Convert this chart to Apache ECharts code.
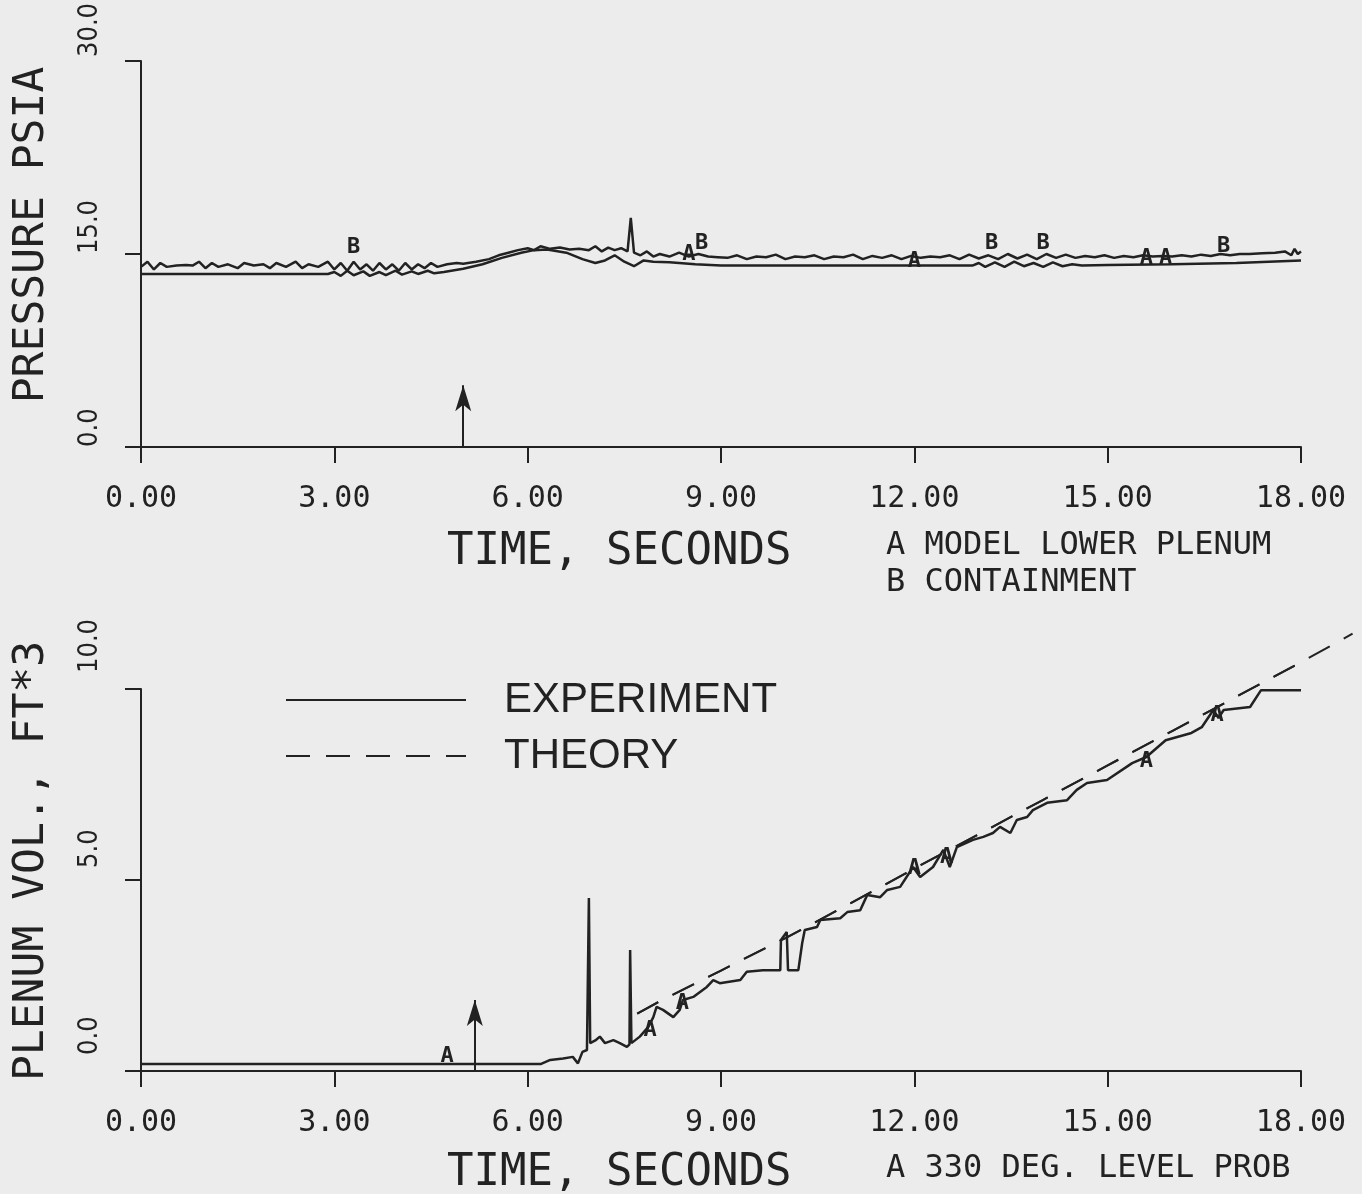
<!DOCTYPE html>
<html><head><meta charset="utf-8">
<script src="https://cdn.jsdelivr.net/npm/echarts@6/dist/echarts.min.js"></script>
<style>html,body{margin:0;padding:0;background:#ececec}#c{width:1362px;height:1194px}</style>
</head><body><div id="c"></div>
<script>
// ---------- DATA ----------
const xTickValues = [0, 3, 6, 9, 12, 15, 18];
const pressureTicks = [0, 15, 30];
const volumeTicks = [0, 5, 10];

// Top panel: B = containment (noisy trace), A = model lower plenum
const pressureB = [
 [0,14.0],[0.1,14.4],[0.2,13.8],[0.3,14.3],[0.4,14.0],[0.55,14.1],[0.7,14.15],[0.8,14.1],[0.9,14.4],[1.0,13.9],
 [1.1,14.3],[1.2,14.0],[1.35,14.2],[1.5,13.9],[1.6,14.3],[1.75,14.1],[1.9,14.2],[2.0,13.9],[2.1,14.3],[2.25,14.0],
 [2.4,14.4],[2.5,13.9],[2.6,14.2],[2.75,14.0],[2.9,14.4],[3.0,13.8],[3.1,14.3],[3.2,13.7],[3.3,14.4],[3.4,13.8],
 [3.5,14.2],[3.6,13.7],[3.7,14.3],[3.8,13.8],[3.9,14.2],[4.0,13.7],[4.1,14.3],[4.2,13.8],[4.3,14.2],[4.4,13.9],
 [4.5,14.3],[4.6,14.0],[4.75,14.2],[4.9,14.3],[5.0,14.25],[5.2,14.4],[5.4,14.6],[5.55,14.9],[5.7,15.1],[5.85,15.3],
 [6.0,15.45],[6.1,15.3],[6.2,15.6],[6.35,15.4],[6.5,15.5],[6.65,15.35],[6.8,15.4],[6.95,15.3],[7.05,15.6],[7.15,15.2],
 [7.25,15.5],[7.35,15.3],[7.45,15.45],[7.55,15.2],[7.6,17.8],[7.65,15.1],[7.75,14.9],[7.85,15.2],[7.95,14.8],[8.05,15.0],
 [8.2,14.8],[8.35,15.1],[8.5,14.8],[8.65,15.0],[8.8,14.8],[8.95,14.75],[9.1,14.7],[9.25,14.9],[9.4,14.6],[9.55,14.8],
 [9.7,14.75],[9.85,14.95],[10.0,14.6],[10.15,14.8],[10.3,14.75],[10.45,14.9],[10.6,14.6],[10.75,14.8],[10.9,14.75],[11.05,14.95],
 [11.2,14.6],[11.35,14.85],[11.5,14.7],[11.65,14.9],[11.8,14.6],[11.95,14.85],[12.1,14.7],[12.25,14.8],[12.4,14.75],[12.55,14.9],
 [12.7,14.6],[12.85,14.95],[13.0,14.65],[13.15,14.9],[13.3,14.6],[13.45,15.0],[13.6,14.65],[13.75,14.95],[13.9,14.6],[14.05,15.0],
 [14.2,14.7],[14.35,14.95],[14.5,14.7],[14.65,14.85],[14.8,14.75],[14.95,14.9],[15.1,14.7],[15.25,14.85],[15.4,14.75],[15.55,14.9],
 [15.7,14.8],[15.85,14.85],[16.0,14.8],[16.15,14.9],[16.3,14.8],[16.45,14.95],[16.6,14.85],[16.75,15.0],[16.9,14.9],[17.05,15.0],
 [17.2,15.0],[17.4,15.05],[17.6,15.1],[17.75,15.2],[17.85,14.9],[17.9,15.4],[17.95,15.0],[18.0,15.2]
];
const pressureA = [
 [0,13.45],[1,13.45],[2,13.45],[2.9,13.45],[3.0,13.6],[3.1,13.3],[3.2,13.7],[3.3,13.35],[3.45,13.65],[3.55,13.3],
 [3.7,13.6],[3.8,13.35],[3.95,13.7],[4.05,13.4],[4.2,13.65],[4.3,13.45],[4.45,13.7],[4.55,13.5],[4.7,13.6],[5.0,13.85],
 [5.3,14.2],[5.6,14.7],[5.9,15.1],[6.1,15.3],[6.3,15.35],[6.6,15.1],[6.85,14.6],[7.05,14.3],[7.2,14.5],[7.35,14.9],
 [7.5,14.4],[7.65,14.05],[7.8,14.5],[7.95,14.4],[8.2,14.35],[8.6,14.2],[9.0,14.1],[10,14.1],[11,14.1],[12,14.1],
 [12.9,14.1],[13.0,14.3],[13.1,14.0],[13.25,14.35],[13.4,14.0],[13.55,14.4],[13.7,14.05],[13.85,14.3],[14.0,14.0],[14.15,14.35],
 [14.3,14.05],[14.45,14.2],[14.6,14.1],[15,14.15],[16,14.2],[17,14.3],[18,14.5]
];
const pressureMarksB = [[3.3,15.5],[8.7,15.85],[13.2,15.8],[14.0,15.8],[16.8,15.6]];
const pressureMarksA = [[8.5,15.0],[12.0,14.4],[15.6,14.7],[15.9,14.7]];
const pressureArrow = [5.0, 0, 4.8];   // time, from, to

// Bottom panel
const volumeExperiment = [
 [0,0.18],[6.2,0.18],[6.35,0.29],[6.55,0.33],[6.7,0.37],[6.78,0.2],[6.85,0.5],[6.92,0.55],[6.95,4.53],[6.97,0.73],
 [7.05,0.8],[7.12,0.9],[7.2,0.73],[7.33,0.81],[7.43,0.73],[7.54,0.63],[7.58,0.7],[7.59,3.17],[7.61,0.73],[7.74,0.9],
 [7.87,1.15],[7.95,1.41],[8.0,1.68],[8.1,1.6],[8.26,1.41],[8.36,1.6],[8.41,1.86],[8.57,1.94],[8.78,2.2],[8.88,2.38],
 [8.98,2.3],[9.3,2.38],[9.4,2.6],[9.65,2.64],[9.92,2.64],[9.93,3.43],[10.02,3.64],[10.04,2.64],[10.2,2.64],[10.26,3.35],
 [10.3,3.69],[10.49,3.77],[10.54,3.95],[10.85,4.0],[10.96,4.16],[11.16,4.21],[11.27,4.61],[11.47,4.55],[11.58,4.74],[11.78,4.82],
 [11.98,5.34],[12.09,5.08],[12.29,5.34],[12.45,5.79],[12.55,5.34],[12.66,5.86],[12.91,6.05],[13.07,6.13],[13.22,6.23],[13.33,6.39],
 [13.49,6.23],[13.59,6.57],[13.75,6.65],[13.84,6.83],[14.06,7.02],[14.37,7.09],[14.52,7.36],[14.68,7.54],[14.99,7.62],[15.38,8.06],
 [15.6,8.22],[15.9,8.66],[16.3,8.85],[16.46,9.0],[16.64,9.45],[16.72,9.24],[16.8,9.45],[17.21,9.53],[17.38,9.97],[18.0,9.97]
];
const volumeTheory = [
 [7.7,1.5],[8,1.78],[9,2.63],[10,3.48],[11,4.38],[12,5.3],[13,6.2],[14,7.1],[15,8.0],[16,8.9],[17,9.8],[18,10.7],[18.8,11.45]
];
const volumeMarksA = [[4.75,0.38],[7.9,1.07],[8.4,1.77],[12.0,5.3],[12.5,5.6],[15.6,8.1],[16.7,9.3]];
const volumeArrow = [5.18, 0, 1.86];

// ---------- STYLE ----------
const INK = '#222222';
const MONO = '"DejaVu Sans Mono","Liberation Mono",monospace';
const NARROW = '"Liberation Sans Narrow","DejaVu Sans Condensed","Arial Narrow","Liberation Sans",sans-serif';
const SANS = '"Liberation Sans",Arial,sans-serif';
const DASH = [24, 16];

function xAxisCfg(gi){
  return {
    type:'value', gridIndex:gi, min:0, max:18, interval:3,
    axisLine:{show:true, onZero:false, lineStyle:{color:INK, width:2}},
    axisTick:{show:true, length:16, lineStyle:{color:INK, width:2}},
    axisLabel:{margin:37, color:INK, fontFamily:MONO, fontSize:30,
      formatter:v => xTickValues.includes(v) ? v.toFixed(2) : ''},
    splitLine:{show:false}
  };
}
// per-label shift along the axis (the plotter placed the y tick labels slightly above their ticks)
function yAxisCfg(gi, max, interval, name, ticks, shifts){
  const rich = {};
  ticks.forEach((t, i) => {
    rich['p' + i] = {fontFamily:NARROW, fontSize:27, color:INK, padding:[0,0,0,shifts[i]]};
  });
  return {
    type:'value', gridIndex:gi, min:0, max:max, interval:interval,
    name:name, nameLocation:'middle', nameGap:88, nameRotate:90,
    nameTextStyle:{color:INK, fontFamily:MONO, fontSize:43, padding:[0,0,0,38]},
    axisLine:{show:true, onZero:false, lineStyle:{color:INK, width:2}},
    axisTick:{show:true, length:16, lineStyle:{color:INK, width:2}},
    axisLabel:{margin:38, color:INK, fontFamily:NARROW, fontSize:27, rotate:90, align:'left',
      formatter:v => {
        const i = ticks.indexOf(v);
        return i < 0 ? '' : '{p' + i + '|' + v.toFixed(1) + '}';
      }, rich:rich},
    splitLine:{show:false}
  };
}
const markLbl = (txt) => ({show:true, position:'inside', formatter:txt, color:INK,
  textBorderWidth:0, fontFamily:MONO, fontWeight:'bold', fontSize:22});
const markItem = {color:'rgba(0,0,0,0)', opacity:1};

const option = {
  backgroundColor:'#ececec',
  animation:false,
  grid:[
    {left:141, top:61, width:1160, height:386, containLabel:false, outerBoundsMode:'none'},
    {left:141, top:689, width:1160, height:382, containLabel:false, outerBoundsMode:'none'}
  ],
  xAxis:[xAxisCfg(0), xAxisCfg(1)],
  yAxis:[yAxisCfg(0,30,15,'PRESSURE PSIA', pressureTicks, [0,0,4]),
         yAxisCfg(1,10,5,'PLENUM VOL., FT*3', volumeTicks, [16,12,16])],
  legend:{
    data:['EXPERIMENT','THEORY'], orient:'vertical', left:280, top:674,
    itemWidth:180, itemHeight:2, itemGap:14,
    itemStyle:{opacity:0},
    textStyle:{color:INK, fontFamily:SANS, fontSize:42, padding:[0,0,0,33]},
    selectedMode:false
  },
  series:[
    {name:'B CONTAINMENT', type:'line', xAxisIndex:0, yAxisIndex:0, data:pressureB,
     showSymbol:false, lineStyle:{color:INK, width:2.5}, z:3,
     markLine:{silent:true, symbol:['none','arrow'], symbolSize:[12,26],
       lineStyle:{color:INK, width:2, type:'solid'}, label:{show:false},
       data:[[{coord:[pressureArrow[0],pressureArrow[1]]},{coord:[pressureArrow[0],pressureArrow[2]]}]]}},
    {name:'A MODEL LOWER PLENUM', type:'line', xAxisIndex:0, yAxisIndex:0, data:pressureA,
     showSymbol:false, lineStyle:{color:INK, width:2.5}, z:3},
    {name:'marksB', type:'scatter', xAxisIndex:0, yAxisIndex:0, data:pressureMarksB,
     symbolSize:1, itemStyle:markItem, label:markLbl('B'), z:4},
    {name:'marksA', type:'scatter', xAxisIndex:0, yAxisIndex:0, data:pressureMarksA,
     symbolSize:1, itemStyle:markItem, label:markLbl('A'), z:4},
    {name:'EXPERIMENT', type:'line', xAxisIndex:1, yAxisIndex:1, data:volumeExperiment,
     showSymbol:false, symbol:'none', lineStyle:{color:INK, width:2.5}, itemStyle:{color:INK}, z:3,
     markLine:{silent:true, symbol:['none','arrow'], symbolSize:[12,26],
       lineStyle:{color:INK, width:2, type:'solid'}, label:{show:false},
       data:[[{coord:[volumeArrow[0],volumeArrow[1]]},{coord:[volumeArrow[0],volumeArrow[2]]}]]}},
    {name:'THEORY', type:'line', xAxisIndex:1, yAxisIndex:1, data:volumeTheory, clip:false,
     showSymbol:false, symbol:'none', lineStyle:{color:INK, width:2, type:DASH}, itemStyle:{color:INK}, z:2},
    // same theory curve drawn without the grid clip so it runs past t = 18 as in the original
    {name:'theoryOverrun', type:'custom', xAxisIndex:1, yAxisIndex:1, clip:false, silent:true, z:2,
     data:volumeTheory, encode:{x:0, y:1},
     renderItem:(params, api) => {
       if (params.dataIndex !== 0) return null;
       return {type:'polyline', shape:{points:volumeTheory.map(p => api.coord(p))},
               style:{stroke:INK, lineWidth:2, lineDash:DASH, fill:null}};
     }},
    {name:'marksVol', type:'scatter', xAxisIndex:1, yAxisIndex:1, data:volumeMarksA,
     symbolSize:1, itemStyle:markItem, label:markLbl('A'), z:4}
  ],
  graphic:[
    {type:'text', left:447, top:531, style:{text:'TIME, SECONDS', font:'44px '+MONO, fill:INK}},
    {type:'text', left:886, top:530, style:{text:'A MODEL LOWER PLENUM', font:'32px '+MONO, fill:INK}},
    {type:'text', left:886, top:567, style:{text:'B CONTAINMENT', font:'32px '+MONO, fill:INK}},
    {type:'text', left:447, top:1152, style:{text:'TIME, SECONDS', font:'44px '+MONO, fill:INK}},
    {type:'text', left:886, top:1153, style:{text:'A 330 DEG. LEVEL PROB', font:'32px '+MONO, fill:INK}}
  ]
};
const chart = echarts.init(document.getElementById('c'), null, {renderer:'canvas'});
chart.setOption(option);
</script>
</body></html>
